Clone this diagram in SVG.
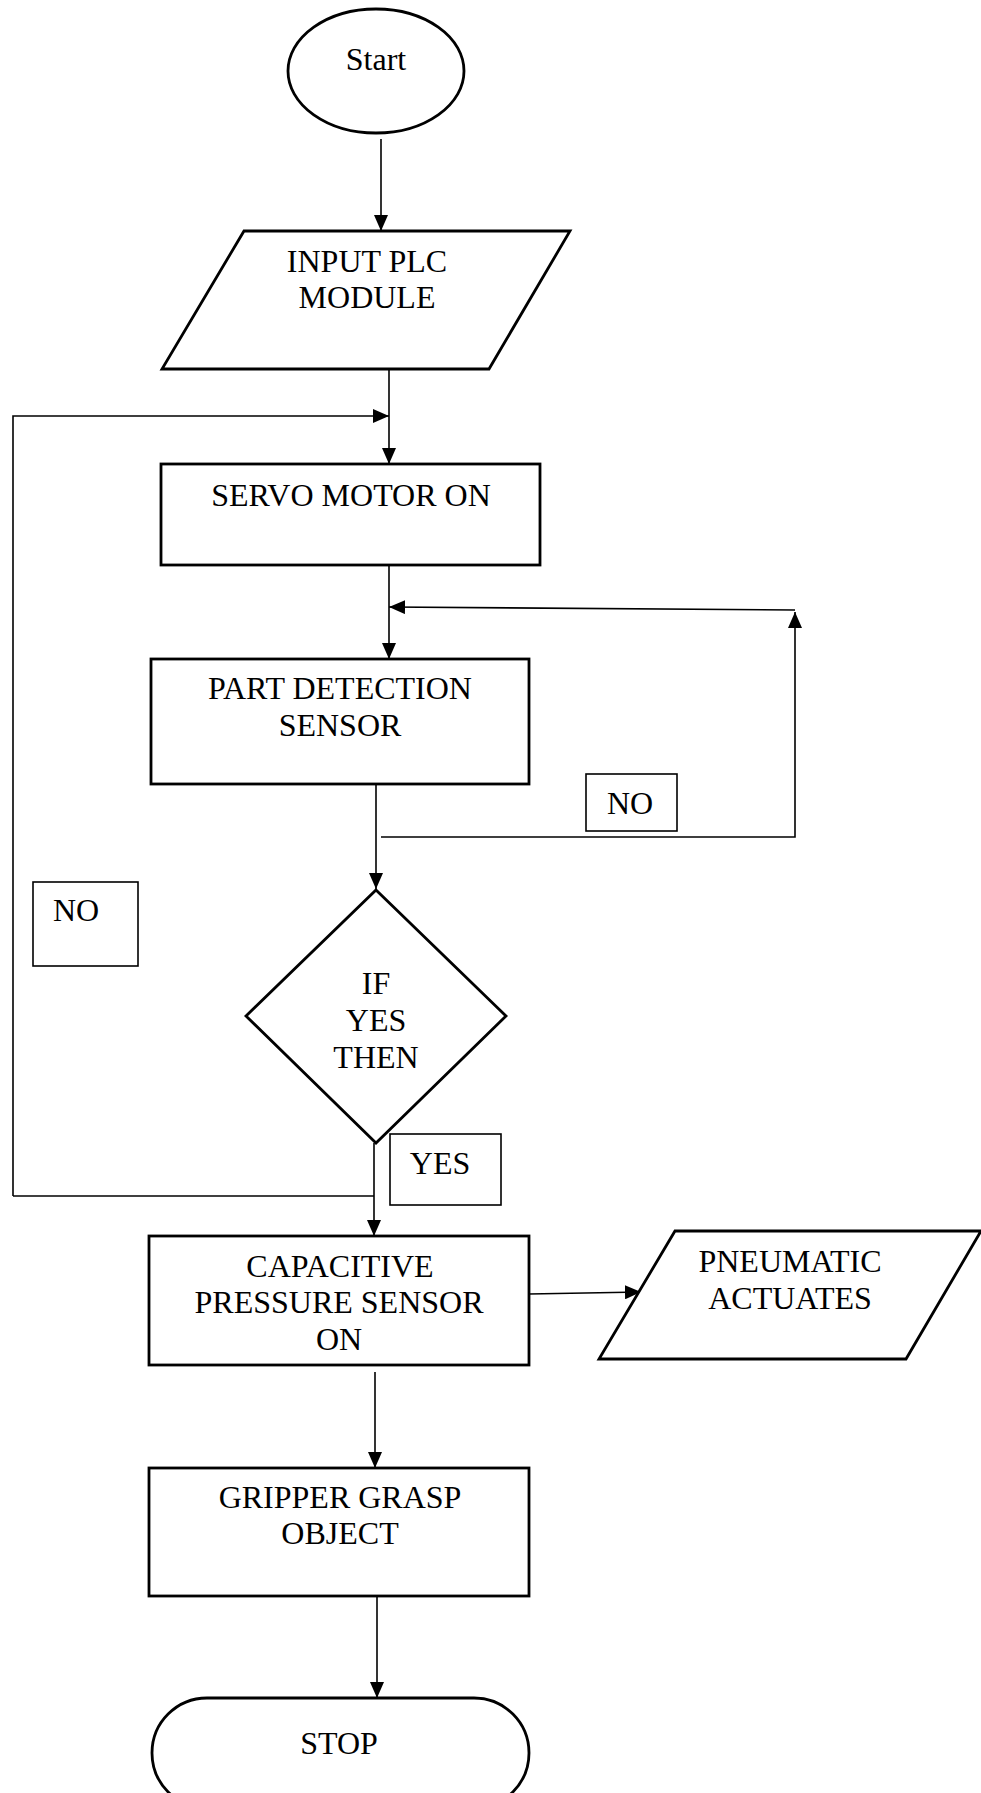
<svg xmlns="http://www.w3.org/2000/svg" width="981" height="1793" viewBox="0 0 981 1793">
<style>
.n{fill:#fff;stroke:#000;stroke-width:2.8;stroke-linejoin:miter}
.lb{fill:#fff;stroke:#000;stroke-width:1.6}
.c{fill:none;stroke:#000;stroke-width:1.6}
text{font-family:"Liberation Serif","Times New Roman",serif;font-size:32px;fill:#000;text-anchor:middle}
</style>
<defs>
<marker id="ah" markerUnits="userSpaceOnUse" markerWidth="17" markerHeight="14" refX="16" refY="7" orient="auto">
<path d="M0,0 L16,7 L0,14 Z" fill="#000"/>
</marker>
</defs>
<rect width="981" height="1793" fill="#fff"/>
<g id="connectors">
<path class="c" d="M381,139 V231" marker-end="url(#ah)"/>
<path class="c" d="M389,366 V464" marker-end="url(#ah)"/>
<path class="c" d="M13,1196 H374"/>
<path class="c" d="M13,1196 V416 H389" marker-end="url(#ah)"/>
<path class="c" d="M389,560 V659" marker-end="url(#ah)"/>
<path class="c" d="M381,837 H795 V612" marker-end="url(#ah)"/>
<path class="c" d="M795,610 L389,607" marker-end="url(#ah)"/>
<path class="c" d="M376,784 V889" marker-end="url(#ah)"/>
<path class="c" d="M374,1143 V1236" marker-end="url(#ah)"/>
<path class="c" d="M529,1294 L641,1292" marker-end="url(#ah)"/>
<path class="c" d="M375,1372 V1468" marker-end="url(#ah)"/>
<path class="c" d="M377,1596 V1698" marker-end="url(#ah)"/>
</g>
<g id="start">
<ellipse class="n" cx="376" cy="71" rx="88" ry="62"/>
<text x="376" y="70">Start</text>
</g>
<g id="input">
<polygon class="n" points="244,231 570,231 489,369 162,369"/>
<text x="367" y="272">INPUT PLC</text>
<text x="367" y="308">MODULE</text>
</g>
<g id="servo">
<rect class="n" x="161" y="464" width="379" height="101"/>
<text x="351" y="506">SERVO MOTOR ON</text>
</g>
<g id="part">
<rect class="n" x="151" y="659" width="378" height="125"/>
<text x="340" y="699">PART DETECTION</text>
<text x="340" y="736">SENSOR</text>
</g>
<g id="no-right">
<rect class="lb" x="586" y="774" width="91" height="57"/>
<text x="630" y="814">NO</text>
</g>
<g id="no-left">
<rect class="lb" x="33" y="882" width="105" height="84"/>
<text x="76" y="921">NO</text>
</g>
<g id="decision">
<polygon class="n" points="376,890 506,1016 376,1143 246,1016"/>
<text x="376" y="994">IF</text>
<text x="376" y="1031">YES</text>
<text x="376" y="1068">THEN</text>
</g>
<g id="yes">
<rect class="lb" x="390" y="1134" width="111" height="71"/>
<text x="440" y="1174">YES</text>
</g>
<g id="capacitive">
<rect class="n" x="149" y="1236" width="380" height="129"/>
<text x="340" y="1277">CAPACITIVE</text>
<text x="339" y="1313">PRESSURE SENSOR</text>
<text x="339" y="1350">ON</text>
</g>
<g id="pneumatic">
<polygon class="n" points="675,1231 981,1231 906,1359 599,1359"/>
<text x="790" y="1272">PNEUMATIC</text>
<text x="790" y="1309">ACTUATES</text>
</g>
<g id="gripper">
<rect class="n" x="149" y="1468" width="380" height="128"/>
<text x="340" y="1508">GRIPPER GRASP</text>
<text x="340" y="1544">OBJECT</text>
</g>
<g id="stop">
<rect class="n" x="152" y="1698" width="377" height="110" rx="55" ry="55"/>
<text x="339" y="1754">STOP</text>
</g>
</svg>
